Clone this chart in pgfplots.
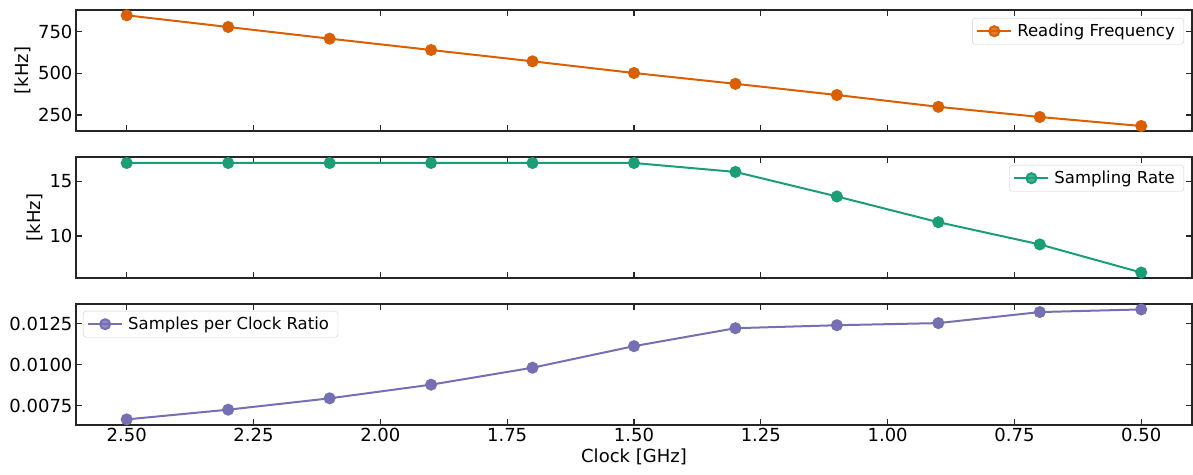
\documentclass[border=0pt]{standalone}
\usepackage{fontspec}
\setmainfont{DejaVu Sans}
\usepackage{pgfplots}
\pgfplotsset{compat=1.18}
\definecolor{corange}{HTML}{D95F02}
\definecolor{cgreen}{HTML}{1B9E77}
\definecolor{cpurple}{HTML}{7570B3}
\definecolor{spine}{HTML}{262626}
\pgfplotsset{
  panel/.style={
    scale only axis, width=1116pt, height=121pt,
    anchor=south west,
    xmin=0.4, xmax=2.6, x dir=reverse,
    xtick={0.5,0.75,1.0,1.25,1.5,1.75,2.0,2.25,2.5},
    tick align=inside, major tick length=6pt,
    axis line style={spine, line width=1.2pt},
    every tick/.style={spine, line width=1.1pt},
    tick label style={font=\fontsize{18}{21}\selectfont},
    label style={font=\fontsize{18}{21}\selectfont},
    /pgf/number format/assume math mode=true,
    xticklabel style={/pgf/number format/.cd, fixed, fixed zerofill, precision=2},
    legend style={font=\fontsize{16.5}{19}\selectfont, draw=black!20, rounded corners=3pt,
      fill=white, fill opacity=0.8, text opacity=1, inner xsep=4pt, inner ysep=4pt,
      nodes={inner xsep=5pt}},
    legend image code/.code={\draw[mark repeat=2,mark phase=2] plot coordinates {(0pt,0pt) (17pt,0pt) (34pt,0pt)};},
    clip=false,
  },
  ser/.style={line width=2pt, mark=*, mark size=5pt, mark options={solid}},
}
\begin{document}
\begin{tikzpicture}
\useasboundingbox (0pt,0pt) rectangle (1193pt,474pt);
% Panel 1
\begin{axis}[panel, at={(76pt,343pt)},
  ymin=154, ymax=880, ytick={250,500,750},
  xticklabels={},
  ylabel={[kHz]},
  legend style={at={(1,1)}, anchor=north east, xshift=-8pt, yshift=-8pt}]
\addplot[ser, color=corange] coordinates {
(2.5,848) (2.3,778) (2.1,708) (1.9,640) (1.7,572) (1.5,502) (1.3,437) (1.1,370) (0.9,299) (0.7,238) (0.5,184)};
\addlegendentry{Reading Frequency}
\end{axis}
% Panel 2
\begin{axis}[panel, at={(76pt,196pt)},
  ymin=6.15, ymax=17.25, ytick={10,15},
  xticklabels={},
  ylabel={[kHz]},
  legend style={at={(1,1)}, anchor=north east, xshift=-8pt, yshift=-8pt}]
\addplot[ser, color=cgreen] coordinates {
(2.5,16.7) (2.3,16.7) (2.1,16.7) (1.9,16.7) (1.7,16.7) (1.5,16.7) (1.3,15.88) (1.1,13.63) (0.9,11.27) (0.7,9.23) (0.5,6.65)};
\addlegendentry{Sampling Rate}
\end{axis}
% Panel 3
\begin{axis}[panel, at={(76pt,49pt)},
  ymin=0.00634, ymax=0.01369, ytick={0.0075,0.01,0.0125},
  scaled y ticks=false,
  yticklabel style={/pgf/number format/.cd, fixed, fixed zerofill, precision=4},
  xlabel={Clock [GHz]},
  legend style={at={(0,1)}, anchor=north west, xshift=7pt, yshift=-7pt}]
\addplot[ser, color=cpurple] coordinates {
(2.5,0.00668) (2.3,0.00727) (2.1,0.00796) (1.9,0.00879) (1.7,0.00982) (1.5,0.01113) (1.3,0.01222) (1.1,0.01240) (0.9,0.01253) (0.7,0.01320) (0.5,0.01336)};
\addlegendentry{Samples per Clock Ratio}
\end{axis}
\end{tikzpicture}
\end{document}
